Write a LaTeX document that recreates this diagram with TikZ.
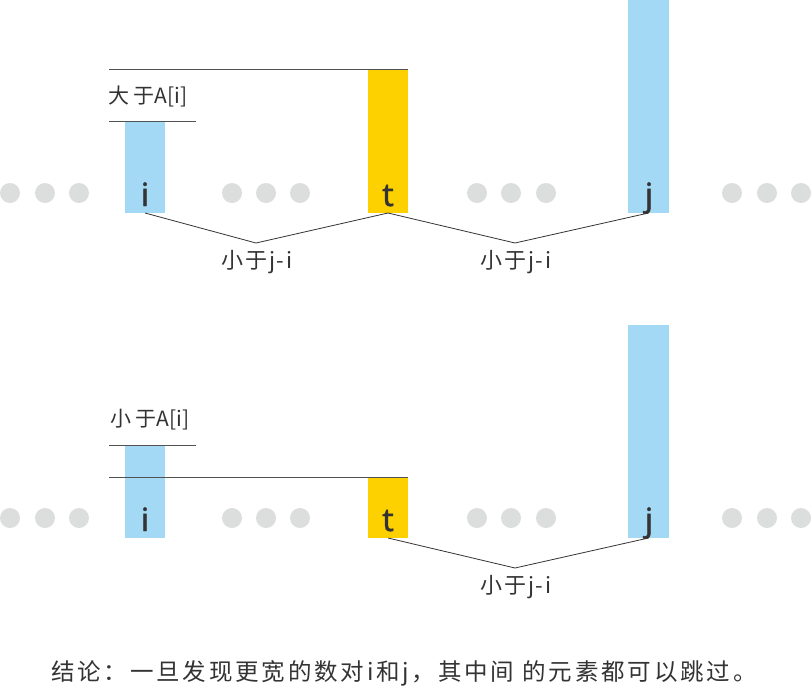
\documentclass[tikz,border=0pt]{standalone}
\usepackage{fontspec}
\setmainfont{Noto Sans}
\newfontfamily\cjk{Noto Sans CJK SC}
\newfontfamily\cjkwide[LetterSpace=12]{Noto Sans CJK SC}
\newfontfamily\cjkmid[LetterSpace=8]{Noto Sans CJK SC}
\newfontfamily\letterfont[FakeBold=1.2]{Noto Sans}
\definecolor{barblue}{HTML}{A3D9F5}
\definecolor{baryellow}{HTML}{FDD000}
\definecolor{dotgray}{HTML}{DCDDDD}
\definecolor{ink}{HTML}{333333}
\begin{document}
\begin{tikzpicture}[x=1pt,y=-1pt,
  bar/.style={inner sep=0pt,outer sep=0pt,minimum width=40pt,anchor=south west},
  bluebar/.style={bar,fill=barblue},
  yellowbar/.style={bar,fill=baryellow},
  dot/.style={circle,fill=dotgray,inner sep=0pt,minimum size=20pt},
  letter/.style={inner sep=0pt,anchor=base,text=ink,font=\letterfont\fontsize{32}{32}\selectfont},
  lbl/.style={inner sep=0pt,text=ink,font=\cjk\fontsize{21}{21}\selectfont},
  midlbl/.style={lbl,font=\cjkmid\fontsize{22}{22}\selectfont},
  conn/.style={draw=ink,line width=0.8pt},
  hline/.style={draw=ink!85,line width=1pt}]
\useasboundingbox (0,0) rectangle (812,694);
% ---------- top row ----------
\node[bluebar,minimum height=92pt] (ti) at (125,213) {};
\node[yellowbar,minimum height=144pt] (tt) at (368,213) {};
\node[bluebar,minimum height=213pt,minimum width=41pt] (tj) at (628,213) {};
\node[letter] (tli) at (145,206) {i};
\node[letter] (tlt) at (388,206) {t};
\node[letter] (tlj) at (649,206) {j};
\foreach \x [count=\k] in {10,45,79,232,266,300,477,511,546,732,767,801}
  \node[dot] (td\k) at (\x,193) {};
\coordinate (tl1) at (109,69);
\coordinate (tl2) at (109,121);
\coordinate (tl2e) at (196,121);
\draw[hline] (tl1) -- (tt.north east);
\draw[hline] (tl2) -- (tl2e);
\node[lbl,anchor=west] (tgt) at (108,96) {大 于A[i]};
\coordinate (tib) at (145,213);
\coordinate (tv1) at (256,243);
\coordinate (tv2) at (515,243);
\draw[conn] (tib) -- (tv1) -- (tt.south);
\draw[conn] (tt.south) -- (tv2) -- (tj.south);
\node[midlbl] (tm1) at (257,262) {小于j-i};
\node[midlbl] (tm2) at (516,262) {小于j-i};
% ---------- bottom row ----------
\node[bluebar,minimum height=93pt] (bi) at (125,538) {};
\node[yellowbar,minimum height=61pt] (bt) at (368,538) {};
\node[bluebar,minimum height=213pt,minimum width=41pt] (bj) at (628,538) {};
\node[letter] (bli) at (145,531) {i};
\node[letter] (blt) at (388,531) {t};
\node[letter] (blj) at (649,531) {j};
\foreach \x [count=\k] in {10,45,79,232,266,300,477,511,546,732,767,801}
  \node[dot] (bd\k) at (\x,518) {};
\coordinate (bl1) at (109,445);
\coordinate (bl1e) at (196,445);
\coordinate (bl2) at (109,477);
\draw[hline] (bl1) -- (bl1e);
\draw[hline] (bl2) -- (bt.north east);
\node[lbl,anchor=west] (blt2) at (110,420) {小 于A[i]};
\coordinate (bv) at (515,568);
\draw[conn] (bt.south) -- (bv) -- (bj.south);
\node[midlbl] (bm) at (516,587) {小于j-i};
% ---------- conclusion ----------
\node[lbl,anchor=west,font=\cjkwide\fontsize{23.5}{24}\selectfont] (concl) at (51,673) {结论：一旦发现更宽的数对i和j，其中间 的元素都可以跳过。};
\end{tikzpicture}
\end{document}
